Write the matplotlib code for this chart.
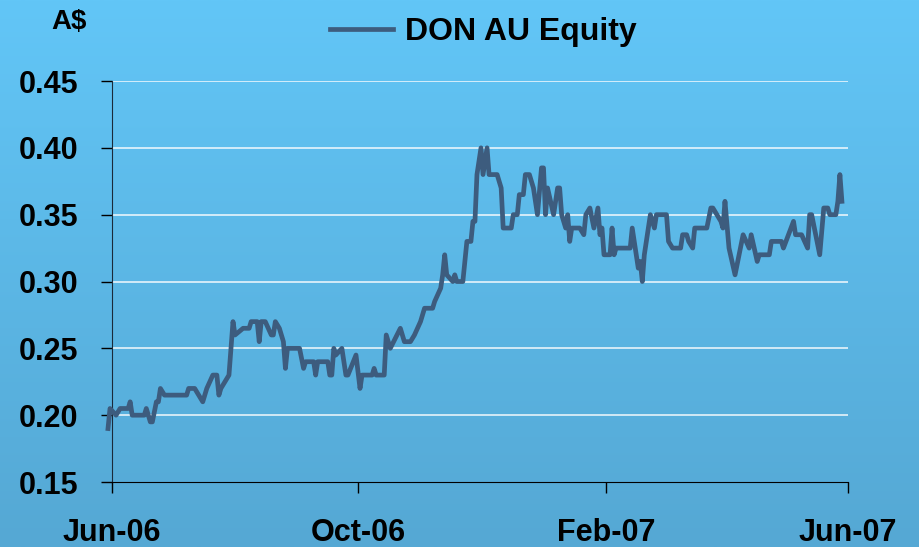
import matplotlib
matplotlib.use("Agg")
import matplotlib.pyplot as plt
import matplotlib.dates as mdates
from matplotlib.colors import LinearSegmentedColormap
import numpy as np

# DON AU Equity share price
# days counted from 1 June 2006
days = [-2, -1, 2, 4, 8, 9, 10, 16, 17, 19, 20, 22, 23, 24, 26, 37, 38, 41, 45, 46,
        47, 50, 52, 53, 54, 58, 60, 61, 65, 68, 69, 72, 73, 74, 76, 79, 80, 81, 83, 85,
        86, 87, 93, 95, 96, 100, 101, 102, 107, 108, 109, 110, 111, 114, 116, 117, 121, 123, 124, 129,
        130, 131, 135, 136, 138, 143, 145, 148, 150, 153, 155, 159, 160, 163, 164, 165, 166, 169, 170, 171,
        174, 176, 178, 179, 180, 181, 183, 184, 186, 187, 191, 193, 194, 198, 199, 201, 202, 204, 205, 207,
        209, 211, 213, 214, 215, 216, 219, 221, 222, 223, 224, 225, 226, 227, 228, 232, 234, 235, 237, 239,
        241, 242, 243, 244, 247, 248, 249, 250, 257, 258, 261, 262, 263, 264, 267, 269, 270, 275, 276, 278,
        282, 283, 285, 286, 288, 289, 295, 297, 298, 302, 303, 304, 306, 309, 311, 313, 316, 317, 320, 321,
        326, 327, 332, 333, 338, 339, 342, 345, 346, 347, 351, 353, 355, 356, 359, 360, 361, 362]
price = [0.190, 0.205, 0.200, 0.205, 0.205, 0.210, 0.200, 0.200, 0.205, 0.195, 0.195, 0.210, 0.210, 0.220, 0.215, 0.215, 0.220, 0.220, 0.210, 0.215,
         0.220, 0.230, 0.230, 0.215, 0.220, 0.230, 0.270, 0.260, 0.265, 0.265, 0.270, 0.270, 0.255, 0.270, 0.270, 0.260, 0.260, 0.270, 0.265, 0.255,
         0.235, 0.250, 0.250, 0.235, 0.240, 0.240, 0.230, 0.240, 0.240, 0.230, 0.230, 0.250, 0.245, 0.250, 0.230, 0.230, 0.245, 0.220, 0.230, 0.230,
         0.235, 0.230, 0.230, 0.260, 0.250, 0.265, 0.255, 0.255, 0.260, 0.270, 0.280, 0.280, 0.285, 0.295, 0.305, 0.320, 0.305, 0.300, 0.305, 0.300,
         0.300, 0.330, 0.330, 0.345, 0.345, 0.380, 0.400, 0.380, 0.400, 0.380, 0.380, 0.370, 0.340, 0.340, 0.350, 0.350, 0.365, 0.365, 0.380, 0.380,
         0.370, 0.350, 0.385, 0.385, 0.350, 0.370, 0.350, 0.370, 0.370, 0.350, 0.345, 0.340, 0.350, 0.330, 0.340, 0.340, 0.335, 0.350, 0.355, 0.340,
         0.355, 0.335, 0.340, 0.320, 0.320, 0.340, 0.320, 0.325, 0.325, 0.340, 0.310, 0.315, 0.300, 0.320, 0.350, 0.340, 0.350, 0.350, 0.330, 0.325,
         0.325, 0.335, 0.335, 0.330, 0.325, 0.340, 0.340, 0.355, 0.355, 0.345, 0.340, 0.360, 0.325, 0.305, 0.320, 0.335, 0.325, 0.335, 0.315, 0.320,
         0.320, 0.330, 0.330, 0.325, 0.345, 0.335, 0.335, 0.325, 0.350, 0.350, 0.320, 0.355, 0.355, 0.350, 0.350, 0.360, 0.380, 0.360]

y_ticks = [0.15, 0.20, 0.25, 0.30, 0.35, 0.40, 0.45]
x_ticks = ["2006-06-01", "2006-10-01", "2007-02-01", "2007-06-01"]

start = np.datetime64("2006-06-01")
dates = start + np.array(days).astype("timedelta64[D]")

plt.rcParams["font.family"] = ["Liberation Sans", "DejaVu Sans"]
plt.rcParams["font.weight"] = "bold"

fig = plt.figure(figsize=(9.19, 5.47), dpi=100)

# gradient backdrop
bg = fig.add_axes([0, 0, 1, 1], zorder=-1)
cmap = LinearSegmentedColormap.from_list("bg", ["#62c6f7", "#55a8d4"])
bg.imshow(np.linspace(0, 1, 256).reshape(-1, 1), aspect="auto", cmap=cmap,
          extent=[0, 1, 0, 1])
bg.axis("off")

ax = fig.add_axes([0.1219, 0.1188, 0.8008, 0.7331])
ax.set_facecolor("none")

ax.plot(dates, price, color="#3d5c7e", lw=3.4, solid_joinstyle="round",
        label="DON AU Equity", clip_on=False, zorder=3)

ax.set_ylim(0.15, 0.45)
ax.set_yticks(y_ticks)
ax.set_yticklabels([f"{t:.2f}" for t in y_ticks])
ax.set_xlim(np.datetime64("2006-06-01"), np.datetime64("2007-06-01"))
ax.set_xticks([np.datetime64(d) for d in x_ticks])
ax.xaxis.set_major_formatter(mdates.DateFormatter("%b-%y"))

for t in y_ticks[1:]:
    ax.axhline(t, color="white", lw=1.2, alpha=0.85, zorder=1)

for side in ["top", "right"]:
    ax.spines[side].set_visible(False)
ax.spines["left"].set_color("#1a2a3a")
ax.spines["bottom"].set_color("black")

ax.tick_params(axis="y", direction="out", length=8, width=1, pad=16, labelsize=22)
ax.tick_params(axis="x", direction="out", length=8, width=1, pad=18, labelsize=22)

fig.text(0.056, 0.960, "A$", fontsize=20, fontweight="bold", va="center", ha="left")

ax.legend(loc="center", bbox_to_anchor=(0.504, 1.122), frameon=False, fontsize=23,
          handlelength=2.0, handletextpad=0.35, borderaxespad=0, borderpad=0)

fig.savefig("out.png", dpi=100)
